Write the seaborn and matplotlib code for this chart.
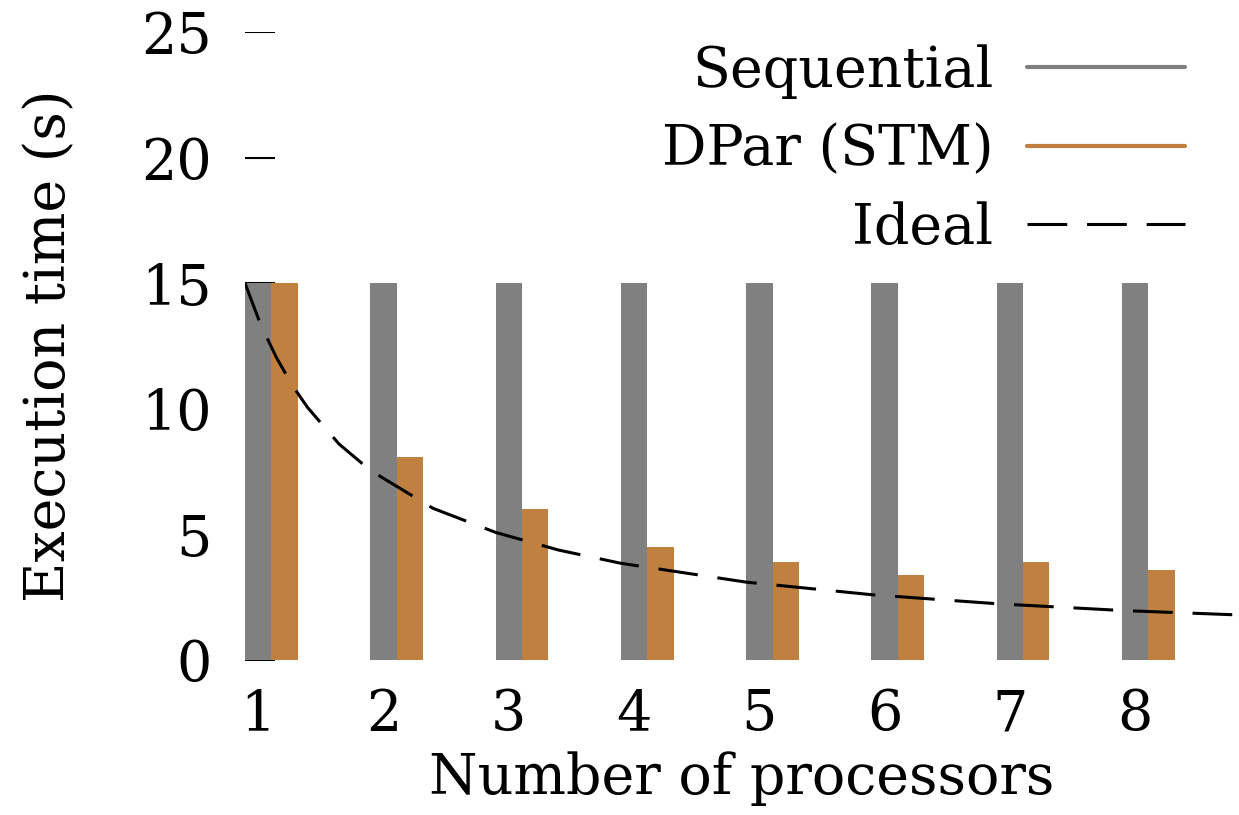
import matplotlib
matplotlib.use("Agg")
import matplotlib.pyplot as plt
from matplotlib.lines import Line2D
import seaborn as sns
import pandas as pd

# ---- data ----
processors = [1, 2, 3, 4, 5, 6, 7, 8]
sequential = [15.0, 15.0, 15.0, 15.0, 15.0, 15.0, 15.0, 15.0]
dpar_stm = [15.0, 8.1, 6.0, 4.5, 3.9, 3.4, 3.9, 3.6]
ideal_n = [1, 1.125, 1.25, 1.375, 1.5, 1.75, 2, 2.5, 3, 3.5, 4, 5, 6, 7, 8, 9]
ideal_vals = [15.0, 13.35, 12.05, 10.95, 10.05, 8.6, 7.55, 6.04, 5.08, 4.38,
              3.85, 3.1, 2.6, 2.24, 1.97, 1.78]
series_names = ["Sequential", "DPar (STM)", "Ideal"]
tick_labels = ["1", "2", "3", "4", "5", "6", "7", "8"]
y_ticks = [0, 5, 10, 15, 20, 25]

colors = {"Sequential": "#808080", "DPar (STM)": "#C08040"}

sns.set_theme(style="white")
plt.rcParams["font.family"] = ["DejaVu Serif"]
plt.rcParams["text.color"] = "black"
plt.rcParams["axes.labelcolor"] = "black"
plt.rcParams["xtick.color"] = "black"
plt.rcParams["ytick.color"] = "black"
FS = 40

df = pd.DataFrame({
    "n": processors * 2,
    "time": sequential + dpar_stm,
    "series": [series_names[0]] * len(processors) + [series_names[1]] * len(processors),
})

fig = plt.figure(figsize=(12.39, 8.15), dpi=100)
ax = fig.add_axes([245 / 1239, 155 / 815, 994 / 1239, 628 / 815])
ax.set_axisbelow(True)

W = 0.42
sns.barplot(data=df, x="n", y="time", hue="series",
            hue_order=series_names[:2], palette=colors,
            native_scale=True, width=W, dodge=True, saturation=1,
            linewidth=0, errorbar=None, legend=False, ax=ax)

off = W / 2
ideal_x = [v - off for v in ideal_n]
sns.lineplot(x=ideal_x, y=ideal_vals, color="black", linewidth=2.2,
             linestyle=(0, (13, 6.5)), ax=ax, zorder=5, estimator=None,
             sort=False)

ax.set_xlim(1 - off, 1 - off + 994 / 125.3)
ax.set_ylim(0, 25)
ax.set_xticks([p - W / 4 for p in processors])
ax.set_xticklabels(tick_labels)
ax.set_yticks(y_ticks)
ax.tick_params(axis="y", direction="in", length=21.6, width=1.5,
               color="black", labelcolor="black", labelsize=FS, pad=24, left=True)
ax.tick_params(axis="x", length=0, labelsize=FS, pad=20, labelcolor="black")
for tk in ax.yaxis.get_major_ticks():
    tk.tick1line.set_clip_path(ax.patch)
for s in ax.spines.values():
    s.set_visible(False)

ax.set_xlabel("Number of processors", fontsize=FS, labelpad=6, color="black")
ax.set_ylabel("Execution time (s)", fontsize=FS, labelpad=46, color="black")

handles = [
    Line2D([0], [0], color=colors["Sequential"], lw=3),
    Line2D([0], [0], color=colors["DPar (STM)"], lw=3),
    Line2D([0], [0], color="black", lw=2.2, linestyle=(0, (13, 6.5))),
]
leg = fig.legend(handles, series_names, loc="upper right",
                 bbox_to_anchor=(1185 / 1239, 1 - 44 / 815), frameon=False,
                 fontsize=FS, markerfirst=False, handlelength=2.85,
                 handletextpad=0.6, labelspacing=0.43, borderpad=0,
                 borderaxespad=0)
for t in leg.get_texts():
    t.set_color("black")

fig.savefig("out.png", dpi=100)
